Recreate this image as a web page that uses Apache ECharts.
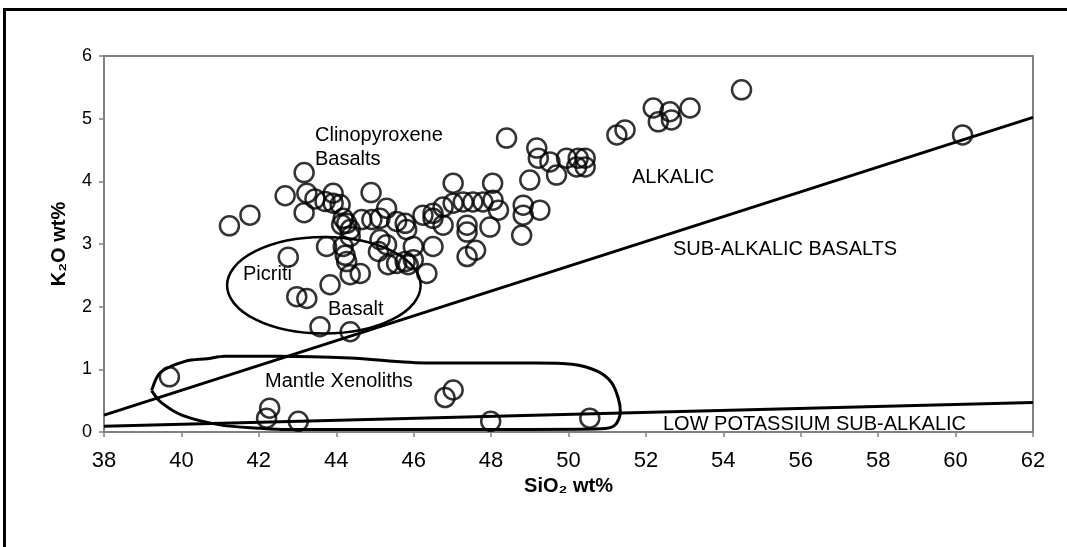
<!DOCTYPE html>
<html>
<head>
<meta charset="utf-8">
<script src="https://cdn.jsdelivr.net/npm/echarts@6/dist/echarts.min.js"></script>
<style>
  html, body { margin: 0; padding: 0; background: #fff; }
  #demo { width: 1067px; height: 547px; }
</style>
</head>
<body>
<div id="demo"></div>
<script>
// 样品点 SiO2 / K2O (wt%)
var siO2 = [43.17, 42.68, 41.77, 41.24, 43.17, 43.24, 43.45, 43.71, 43.92, 43.92,
            44.10, 44.90, 44.18, 44.27, 44.14, 44.36, 44.36, 44.66, 44.92, 45.13,
            45.30, 45.56, 45.78, 45.82, 46.24, 46.50, 46.76, 47.02, 47.02, 47.28,
            47.53, 47.79, 48.04, 48.05, 46.76, 47.38, 47.38, 47.97, 43.75, 44.18,
            44.23, 44.27, 44.36, 44.62, 45.13, 45.30, 45.09, 45.34, 45.56, 45.78,
            45.99, 45.86, 45.99, 46.50, 46.34, 47.38, 47.60, 42.76, 43.84, 42.98,
            43.24, 43.58, 44.36, 49.69, 49.00, 48.83, 49.26, 48.83, 48.79, 48.19,
            48.40, 49.18, 49.22, 49.52, 49.95, 50.25, 50.43, 50.21, 50.43, 51.25,
            51.46, 52.19, 52.62, 53.14, 52.32, 52.66, 54.47, 60.18, 39.69, 42.28,
            42.20, 43.02, 47.02, 46.81, 47.99, 50.55, 46.50];
var k2O  = [4.14, 3.77, 3.46, 3.29, 3.50, 3.81, 3.72, 3.68, 3.81, 3.65,
            3.63, 3.82, 3.41, 3.33, 3.31, 3.23, 3.12, 3.39, 3.39, 3.41,
            3.57, 3.36, 3.33, 3.23, 3.46, 3.49, 3.59, 3.97, 3.65, 3.67,
            3.67, 3.67, 3.97, 3.70, 3.30, 3.30, 3.19, 3.27, 2.96, 2.96,
            2.82, 2.72, 2.51, 2.53, 3.07, 2.99, 2.88, 2.67, 2.69, 2.72,
            2.75, 2.67, 2.96, 2.96, 2.53, 2.80, 2.90, 2.79, 2.35, 2.16,
            2.13, 1.68, 1.60, 4.10, 4.02, 3.62, 3.54, 3.46, 3.14, 3.54,
            4.69, 4.53, 4.37, 4.31, 4.37, 4.37, 4.37, 4.23, 4.23, 4.74,
            4.82, 5.17, 5.11, 5.17, 4.95, 4.98, 5.46, 4.74, 0.88, 0.38,
            0.22, 0.17, 0.67, 0.55, 0.17, 0.22, 3.41];

// 分界线
var alkalicLineX = [38, 62];
var alkalicLineY = [0.27, 5.02];
var lowKLineX = [38, 62];
var lowKLineY = [0.09, 0.47];

// Picriti Basalt 椭圆 (中心 x, 中心 y, 半轴 x, 半轴 y)
var picritiEllipse = [43.68, 2.34, 2.5, 0.77];

// Mantle Xenoliths 手绘轮廓
var mantleX = [39.23, 39.46, 40.11, 40.66, 41.12, 42.51, 44.36, 46.39, 49.16, 50.09,
               50.74, 51.11, 51.29, 51.34, 51.20, 50.83, 48.98, 44.36, 42.70, 42.05,
               41.03, 40.01, 39.46, 39.23];
var mantleY = [0.66, 0.95, 1.13, 1.17, 1.21, 1.21, 1.18, 1.10, 1.10, 1.08,
               0.97, 0.79, 0.53, 0.32, 0.11, 0.05, 0.04, 0.04, 0.04, 0.06,
               0.11, 0.27, 0.48, 0.66];

var xTicks = [38, 62, 2];
var yTicks = [0, 6, 1];

function pairs(a, b) {
    var out = [];
    for (var i = 0; i < a.length; i++) {
        out.push([a[i], b[i]]);
    }
    return out;
}

var chartDom = document.getElementById('demo');
var myChart = echarts.init(chartDom);
var option;
var annFont = "'Liberation Sans', Arial, sans-serif";
function ann(text, x, y) {
    return {
        type: 'text', left: x, top: y - 11, z: 50,
        style: { text: text, fill: '#000', font: '20px ' + annFont }
    };
}
option = {
    animation: false,
    backgroundColor: '#fff',
    grid: {
        left: 104, right: 34, top: 56, bottom: 115,
        show: true, borderColor: '#808080', borderWidth: 2, backgroundColor: 'transparent'
    },
    xAxis: {
        type: 'value',
        min: xTicks[0], max: xTicks[1], interval: xTicks[2],
        name: 'SiO₂ wt%',
        nameLocation: 'middle',
        nameGap: 30,
        nameTextStyle: { color: '#000', fontSize: 20, fontWeight: 'bold', fontFamily: "'Liberation Sans Narrow', 'Liberation Sans', Arial" },
        axisLine: { onZero: false, lineStyle: { color: '#808080', width: 2 } },
        axisTick: { show: true, length: 5, lineStyle: { color: '#808080', width: 1.5 } },
        axisLabel: { color: '#000', fontSize: 22, margin: 18, fontFamily: "'Liberation Sans Narrow', 'Liberation Sans', Arial" },
        splitLine: { show: false }
    },
    yAxis: {
        type: 'value',
        min: yTicks[0], max: yTicks[1], interval: yTicks[2],
        name: 'K₂O wt%',
        nameLocation: 'middle',
        nameGap: 35,
        nameRotate: 90,
        nameTextStyle: { color: '#000', fontSize: 20, fontWeight: 'bold', fontFamily: annFont },
        axisLine: { show: true, lineStyle: { color: '#808080', width: 2 } },
        axisTick: { show: true, length: 5, lineStyle: { color: '#808080', width: 1.5 } },
        axisLabel: { color: '#000', fontSize: 18, margin: 12, fontFamily: annFont },
        splitLine: { show: false }
    },
    graphic: [
        {
            type: 'rect', z: 100, silent: true,
            shape: { x: 4.5, y: 9.5, width: 1200, height: 700 },
            style: { fill: 'none', stroke: '#000', lineWidth: 3 }
        },
        ann('Clinopyroxene', 315, 136),
        ann('Basalts', 315, 160),
        ann('Picriti', 243, 275),
        ann('Basalt', 328, 310),
        ann('ALKALIC', 632, 178),
        ann('SUB-ALKALIC BASALTS', 673, 250),
        ann('Mantle Xenoliths', 265, 382),
        ann('LOW POTASSIUM SUB-ALKALIC', 663, 425)
    ],
    series: [
        {
            type: 'line',
            data: pairs(alkalicLineX, alkalicLineY),
            symbol: 'none',
            lineStyle: { color: '#000', width: 3 },
            z: 3
        },
        {
            type: 'line',
            data: pairs(lowKLineX, lowKLineY),
            symbol: 'none',
            lineStyle: { color: '#000', width: 3 },
            z: 3
        },
        {
            type: 'line',
            data: pairs(mantleX, mantleY),
            symbol: 'none',
            smooth: 0.3,
            lineStyle: { color: '#000', width: 3 },
            z: 3
        },
        {
            type: 'custom',
            data: [picritiEllipse],
            z: 3,
            renderItem: function (params, api) {
                var c = api.coord([api.value(0), api.value(1)]);
                var s = api.size([api.value(2), api.value(3)]);
                var rx = s[0], ry = s[1];
                var d = 'M' + (c[0] - rx) + ' ' + c[1] +
                        ' A' + rx + ' ' + ry + ' 0 1 0 ' + (c[0] + rx) + ' ' + c[1] +
                        ' A' + rx + ' ' + ry + ' 0 1 0 ' + (c[0] - rx) + ' ' + c[1] + ' Z';
                return {
                    type: 'path',
                    shape: { pathData: d },
                    style: { fill: 'none', stroke: '#000', lineWidth: 2.5 }
                };
            }
        },
        {
            type: 'scatter',
            data: pairs(siO2, k2O),
            symbol: 'circle',
            symbolSize: 19,
            itemStyle: { color: 'transparent', borderColor: '#000', borderWidth: 2.5 },
            z: 5
        }
    ]
};
option && myChart.setOption(option);
</script>
</body>
</html>
